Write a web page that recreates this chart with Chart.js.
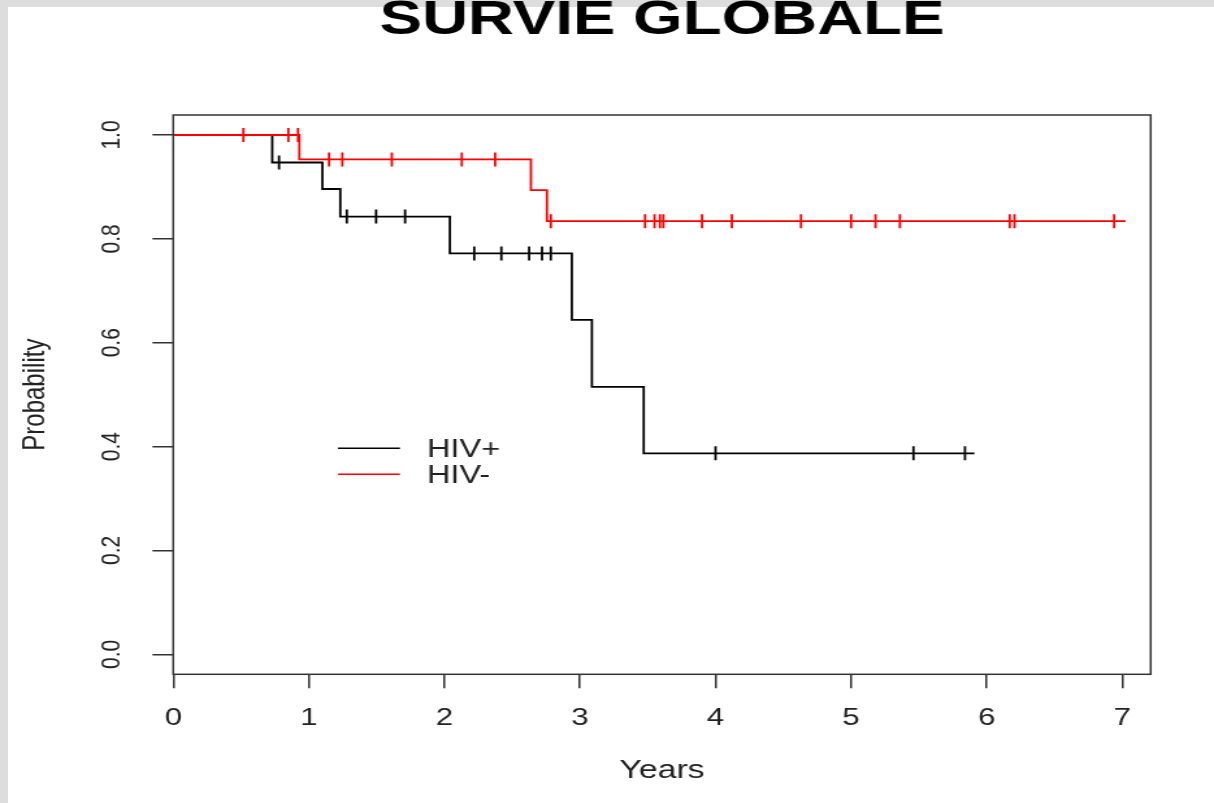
<!DOCTYPE html>
<html>
<head>
<meta charset="utf-8">
<title>Survie globale</title>
<script src="https://cdn.jsdelivr.net/npm/chart.js@4.4.1/dist/chart.umd.min.js"></script>
<style>
  html, body { margin: 0; padding: 0; background: #fff; overflow: hidden; }
  #survie {
    display: block;
    background:
      linear-gradient(#dddddd, #dddddd) left top / 100% 7px no-repeat,
      linear-gradient(#dddddd, #dddddd) left top / 8px 100% no-repeat,
      #ffffff;
  }
</style>
</head>
<body>
<!-- the plot sits stretched sideways on the slide: draw it narrow, widen it with css -->
<canvas id="survie" width="934" height="803" style="width:1214px;height:803px"></canvas>
<script>
const chartTitle = 'SURVIE GLOBALE';
const groupLabels = ['HIV+', 'HIV-'];
const groupColors = ['#000000', '#ff0000'];

// Kaplan-Meier steps: time of each drop (years) and the level after it
const hivPosTimes = [0, 0.73, 1.10, 1.232, 2.04, 2.94, 3.088, 3.47, 5.91];
const hivPosSurv = [1, 0.947, 0.896, 0.843, 0.772, 0.644, 0.515, 0.387, 0.387];
const hivPosCensored = [0.78, 1.28, 1.496, 1.71, 2.22, 2.42, 2.625, 2.72, 2.785, 4.00, 5.46, 5.84];

const hivNegTimes = [0, 0.93, 2.638, 2.756, 7.025];
const hivNegSurv = [1, 0.953, 0.894, 0.834, 0.834];
const hivNegCensored = [0.517, 0.849, 0.92, 1.149, 1.247, 1.612, 2.128, 2.374, 2.785, 3.48, 3.55,
    3.59, 3.615, 3.90, 4.12, 4.63, 5.0, 5.18, 5.36, 6.17, 6.205, 6.94];

const xTicks = [0, 1, 2, 3, 4, 5, 6, 7];
const yTicks = [0, 0.2, 0.4, 0.6, 0.8, 1.0];

// level of the curve at time t (censor marks sit on it)
function levelAt(times, surv, t) {
    let v = surv[0];
    for (let i = 0; i < times.length; i++) {
        if (times[i] <= t) v = surv[i];
    }
    return v;
}
const steps = (times, surv) => times.map((t, i) => ({x: t, y: surv[i]}));
const marks = (cens, times, surv) => cens.map(t => ({x: t, y: levelAt(times, surv, t)}));

const curve = (label, color, data) => ({
    label: label,
    data: data,
    borderColor: color,
    borderWidth: 1.8,
    pointRadius: 0,
    stepped: 'before',
    fill: false
});
const censor = (label, color, data) => ({
    label: label,
    data: data,
    showLine: false,
    pointStyle: 'line',
    pointRotation: 90,
    pointRadius: 7,
    pointBorderWidth: 1.8,
    pointBorderColor: color,
    pointBackgroundColor: color
});

const frame = {
    id: 'frame',
    afterDraw(chart) {
        const {ctx, chartArea: a} = chart;
        ctx.save();
        ctx.strokeStyle = '#333';
        ctx.lineWidth = 1.5;
        ctx.strokeRect(a.left, a.top, a.right - a.left, a.bottom - a.top);

        ctx.fillStyle = '#000';
        ctx.font = 'bold 49px "Liberation Sans", Arial, sans-serif';
        ctx.textAlign = 'center';
        ctx.textBaseline = 'alphabetic';
        ctx.fillText(chartTitle, (a.left + a.right) / 2, 34);

        // legend, R style: short line then label
        ctx.font = '25px "Liberation Sans", Arial, sans-serif';
        ctx.textAlign = 'left';
        ctx.textBaseline = 'middle';
        ctx.lineWidth = 1.5;
        groupLabels.forEach((label, i) => {
            const y = 448.3 + i * 26;
            ctx.strokeStyle = groupColors[i];
            ctx.beginPath();
            ctx.moveTo(a.left + 126.7, y);
            ctx.lineTo(a.left + 174.4, y);
            ctx.stroke();
            ctx.fillStyle = '#222';
            ctx.fillText(label, a.left + 195.2, y + 2.1);
        });
        ctx.restore();
    }
};

Chart.defaults.font.family = '"Liberation Sans", Arial, Helvetica, sans-serif';

const chartSurvie = new Chart(
    document.getElementById('survie'),
    {
        type: 'line',
        data: {
            datasets: [
                curve(groupLabels[1], groupColors[1], steps(hivNegTimes, hivNegSurv)),
                censor(groupLabels[1], groupColors[1], marks(hivNegCensored, hivNegTimes, hivNegSurv)),
                curve(groupLabels[0], groupColors[0], steps(hivPosTimes, hivPosSurv)),
                censor(groupLabels[0], groupColors[0], marks(hivPosCensored, hivPosTimes, hivPosSurv))
            ]
        },
        options: {
            responsive: false,
            devicePixelRatio: 1,
            animation: false,
            events: [],
            layout: {
                padding: {top: 115, right: 48.7, bottom: 0, left: 0}
            },
            plugins: {
                legend: {display: false},
                tooltip: {enabled: false}
            },
            scales: {
                x: {
                    type: 'linear',
                    min: 0,
                    max: 7.21,
                    afterBuildTicks: s => { s.ticks = xTicks.map(v => ({value: v})); },
                    afterFit: s => { s.height = 128.7; },
                    grid: {drawOnChartArea: false, tickLength: 14, color: '#333', lineWidth: 1.5},
                    border: {display: false},
                    ticks: {autoSkip: false, maxRotation: 0, padding: 16, color: '#222', font: {size: 24}},
                    title: {display: true, text: 'Years', color: '#222', font: {size: 26},
                        padding: {top: 0, bottom: 16.7}}
                },
                y: {
                    type: 'linear',
                    min: -0.0385,
                    max: 1.0385,
                    afterBuildTicks: s => { s.ticks = yTicks.map(v => ({value: v})); },
                    afterFit: s => { s.width = 133.3; },
                    grid: {drawOnChartArea: false, tickLength: 16, color: '#333', lineWidth: 1.5},
                    border: {display: false},
                    ticks: {
                        minRotation: 90,
                        maxRotation: 90,
                        crossAlign: 'center',
                        padding: 16.5,
                        color: '#222',
                        font: {size: 21},
                        callback: v => v.toFixed(1)
                    },
                    title: {display: true, text: 'Probability', color: '#222', font: {size: 24},
                        padding: {top: 13.1, bottom: 0}}
                }
            }
        },
        plugins: [frame]
    }
);
</script>
</body>
</html>
